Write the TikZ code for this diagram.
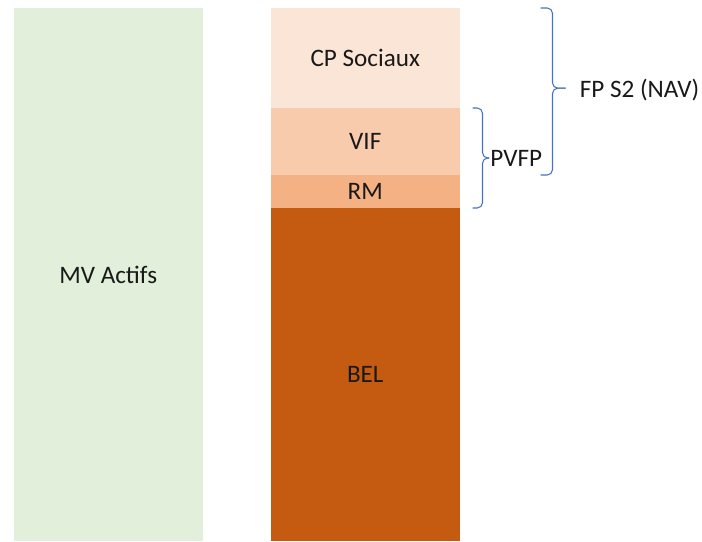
\documentclass[tikz,border=0pt]{standalone}
\usepackage{fontspec}
\setmainfont{Carlito}
\usetikzlibrary{positioning}
\usetikzlibrary{calc}

\definecolor{vertclair}{HTML}{E2EFDA}
\definecolor{peche}{HTML}{FBE5D6}
\definecolor{saumon}{HTML}{F8CBAD}
\definecolor{orangeclair}{HTML}{F4B183}
\definecolor{rouille}{HTML}{C55A11}
\definecolor{bleuacc}{HTML}{4472C4}

\begin{document}
\begin{tikzpicture}[
    bloc/.style = {shape = rectangle, minimum width = 3.77cm, inner sep = 0, outer sep = 0, font = \fontsize{14.3}{17}\selectfont, text = black!90},
    actif/.style = {bloc, fill = vertclair, minimum height = 10.66cm},
    cps/.style = {bloc, fill = peche, minimum height = 2cm},
    vif/.style = {bloc, fill = saumon, minimum height = 1.34cm},
    rm/.style = {bloc, fill = orangeclair, minimum height = 0.66cm},
    bel/.style = {bloc, fill = rouille, minimum height = 6.66cm},
    accolade/.style = {draw = bleuacc, semithick, rounded corners = 3pt},
    etiq/.style = {anchor = west, inner sep = 0, font = \fontsize{14.3}{17}\selectfont, text = black!90},
    ]
    \useasboundingbox (0, 0) rectangle (14.04, -10.82);

    \node[actif, anchor = north west] (MV) at (0.28, -0.16) {MV Actifs};

    \node[cps, anchor = north west] (CP) at (5.42, -0.16) {CP Sociaux};
    \node[vif, below = 0cm of CP] (VIF) {VIF};
    \node[rm, below = 0cm of VIF] (RM) {RM};
    \node[bel, below = 0cm of RM] (BEL) {BEL};

    % accolade FP S2
    \coordinate (H1) at ([xshift = 1.62cm]CP.north east);
    \coordinate (B1) at ([xshift = 1.62cm]VIF.south east);
    \coordinate (M1) at ($(H1)!0.48!(B1) + (0.24, 0)$);
    \coordinate (T1) at ($(M1) + (0.26, 0)$);
    \draw[accolade] (H1) -| (M1) -- (T1);
    \draw[accolade] (B1) -| (M1) -- (T1);

    % accolade PVFP
    \coordinate (H2) at ([xshift = 0.26cm]VIF.north east);
    \coordinate (B2) at ([xshift = 0.26cm]RM.south east);
    \coordinate (M2) at ($(H2)!0.5!(B2) + (0.2, 0)$);
    \coordinate (T2) at ($(M2) + (0.13, 0)$);
    \draw[accolade] (H2) -| (M2) -- (T2);
    \draw[accolade] (B2) -| (M2) -- (T2);

    \node[etiq] (NAV) at ($(T1) + (0.28, -0.04)$) {FP S2 (NAV)};
    \node[etiq] (PVFP) at ($(T2) + (0.02, 0)$) {PVFP};
\end{tikzpicture}
\end{document}
